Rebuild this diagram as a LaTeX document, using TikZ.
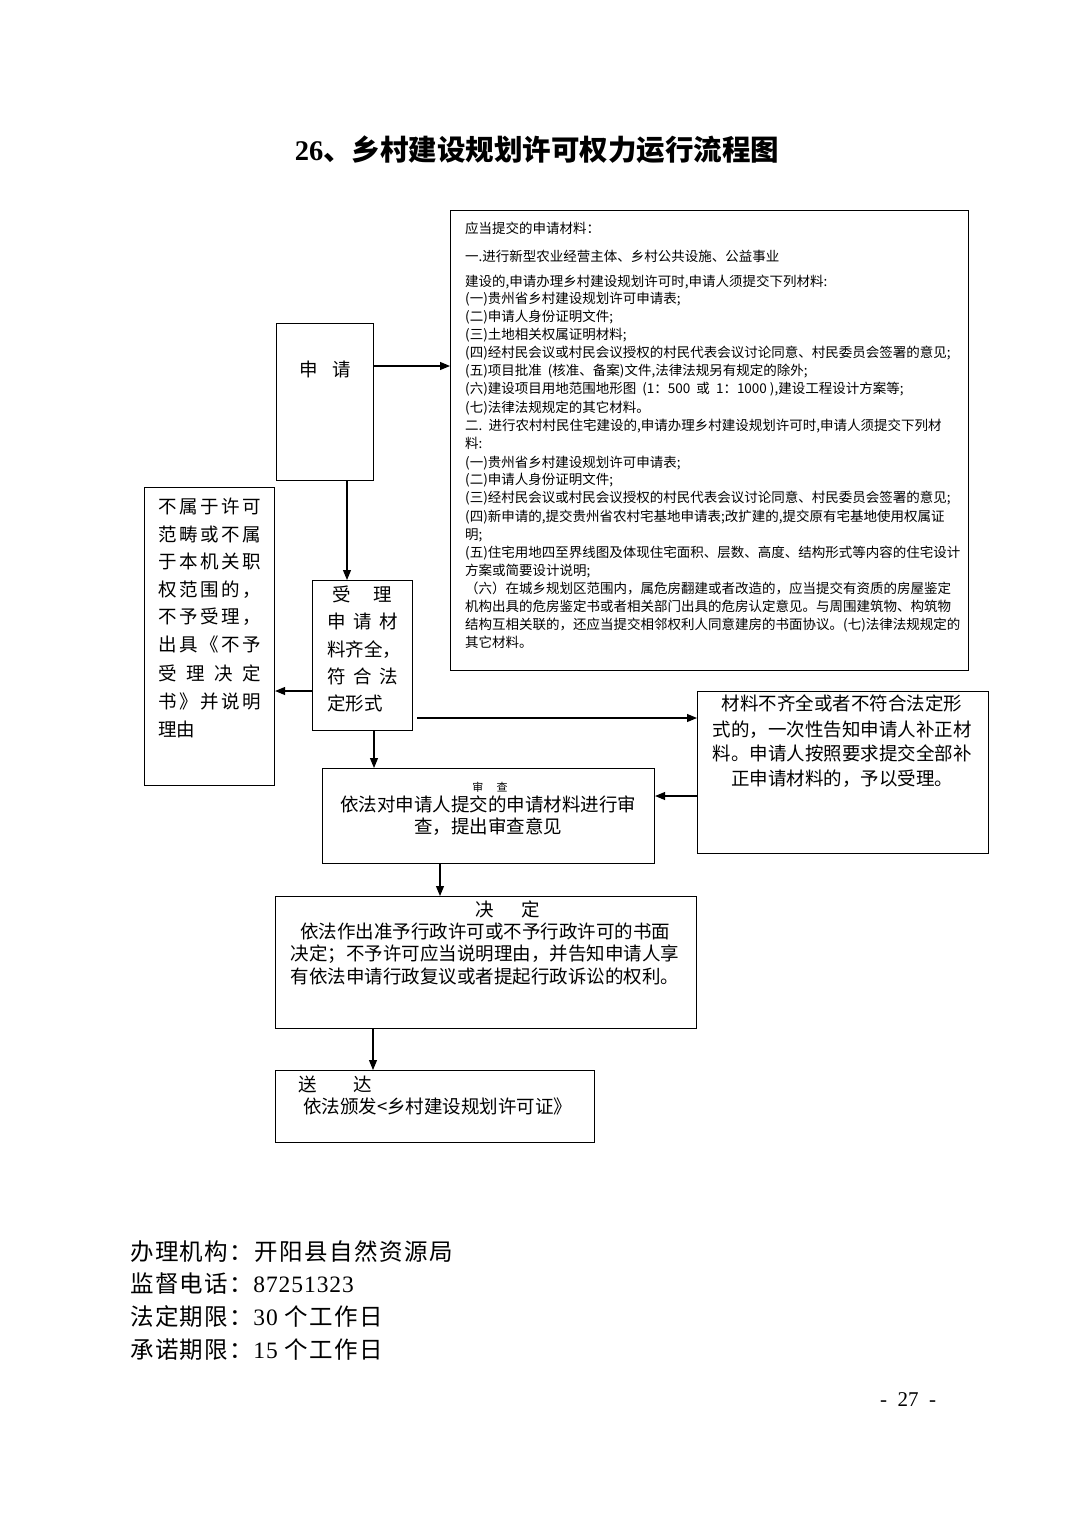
\documentclass[tikz,border=0pt]{standalone}
\usepackage{fontspec}
\setmainfont{Liberation Serif}
\newfontfamily\cjk{Noto Sans CJK SC}
\newfontfamily\cjkw[LetterSpace=6]{Noto Sans CJK SC}
\newfontfamily\serw[LetterSpace=4]{Liberation Serif}
\usetikzlibrary{arrows.meta}
\begin{document}
\begin{tikzpicture}[x=1pt,y=-1pt,
  box/.style={draw, line width=1.1pt, inner sep=0pt, anchor=north west},
  arr/.style={-{Triangle[length=10pt,width=8pt]}, line width=1.1pt},
  txt/.style={inner sep=0pt, anchor=west, text height=0.8em, text depth=0.15em},
  ctxt/.style={inner sep=0pt, anchor=center, text height=0.8em, text depth=0.15em},
  small/.style={font=\cjk\fontsize{13.5}{17}\selectfont},
  mid/.style={font=\cjk\fontsize{18.5}{25}\selectfont},
  big/.style={font=\cjkw\fontsize{23.5}{30}\selectfont}]
\useasboundingbox (0,0) rectangle (1074,1520);

% title
\node[ctxt, font=\cjk\bfseries\fontsize{28.5}{32}\selectfont] (title) at (537,157)
  {{\rmfamily\bfseries 26}、乡村建设规划许可权力运行流程图};

% boxes
\node[box, minimum width=518pt, minimum height=460pt] (mat) at (450,210) {};
\node[box, minimum width=97pt, minimum height=157pt] (sq) at (276,323) {};
\node[box, minimum width=100pt, minimum height=150pt] (sl) at (312,580) {};
\node[box, minimum width=130pt, minimum height=298pt] (bsl) at (144,487) {};
\node[box, minimum width=291pt, minimum height=162pt] (bq) at (697,691) {};
\node[box, minimum width=332pt, minimum height=95pt] (sc) at (322,768) {};
\node[box, minimum width=421pt, minimum height=132pt] (jd) at (275,896) {};
\node[box, minimum width=319pt, minimum height=72pt] (sd) at (275,1070) {};

% materials text
\foreach \y/\t [count=\i] in {
 230/{应当提交的申请材料：},
 258/{一.进行新型农业经营主体、乡村公共设施、公益事业},
 283/{建设的,申请办理乡村建设规划许可时,申请人须提交下列材料:},
 300/{(一)贵州省乡村建设规划许可申请表;},
 318/{(二)申请人身份证明文件;},
 336/{(三)土地相关权属证明材料;},
 354/{(四)经村民会议或村民会议授权的村民代表会议讨论同意、村民委员会签署的意见;},
 372/{(五)项目批准\ \ (核准、备案)文件,法律法规另有规定的除外;},
 390/{(六)建设项目用地范围地形图\ \ (1：500\ \ 或\ \ 1：1000 ),建设工程设计方案等;},
 409/{(七)法律法规规定的其它材料。},
 427/{二.\ \ 进行农村村民住宅建设的,申请办理乡村建设规划许可时,申请人须提交下列材},
 445/{料:},
 464/{(一)贵州省乡村建设规划许可申请表;},
 481/{(二)申请人身份证明文件;},
 499/{(三)经村民会议或村民会议授权的村民代表会议讨论同意、村民委员会签署的意见;},
 518/{(四)新申请的,提交贵州省农村宅基地申请表;改扩建的,提交原有宅基地使用权属证},
 536/{明;},
 554/{(五)住宅用地四至界线图及体现住宅面积、层数、高度、结构形式等内容的住宅设计},
 572/{方案或简要设计说明;},
 590/{（六）在城乡规划区范围内，属危房翻建或者改造的，应当提交有资质的房屋鉴定},
 608/{机构出具的危房鉴定书或者相关部门出具的危房认定意见。与周围建筑物、构筑物},
 626/{结构互相关联的，还应当提交相邻权利人同意建房的书面协议。(七)法律法规规定的},
 644/{其它材料。}}
 { \node[txt, small] (m\i) at (465,\y) {\t}; }

% 申请
\node[ctxt, mid] (sqt) at (325,373) {申\hspace{0.8em}请};

% 受理
\foreach \y/\t [count=\i] in {
 598/{\hspace{0.3em}受\hspace{1.2em}理},
 625/{\makebox[71pt][s]{申\hfill 请\hfill 材}},
 653/{料齐全，},
 680/{\makebox[71pt][s]{符\hfill 合\hfill 法}},
 707/{定形式}}
 { \node[txt, mid] (s\i) at (327,\y) {\t}; }

% left box
\foreach \y/\t [count=\i] in {
 510/{不\hfill 属\hfill 于\hfill 许\hfill 可},
 538/{范\hfill 畴\hfill 或\hfill 不\hfill 属},
 565/{于\hfill 本\hfill 机\hfill 关\hfill 职},
 593/{权\hfill 范\hfill 围\hfill 的\hfill ，},
 620/{不\hfill 予\hfill 受\hfill 理\hfill ，},
 648/{出\hfill 具\hfill 《\hfill 不\hfill 予},
 677/{受\hfill 理\hfill 决\hfill 定},
 705/{书\hfill 》\hfill 并\hfill 说\hfill 明}}
 { \node[txt, mid] (b\i) at (158,\y) {\makebox[103pt][s]{\t}}; }
\node[txt, mid] (b9) at (158,733) {理由};

% right box
\foreach \y/\t [count=\i] in {
 707/{材料不齐全或者不符合法定形},
 733/{式的，一次性告知申请人补正材},
 757/{料。申请人按照要求提交全部补},
 782/{正申请材料的，予以受理。}}
 { \node[ctxt, mid] (r\i) at (842,\y) {\t}; }

% 审查
\node[ctxt, font=\cjk\fontsize{11}{13}\selectfont] (sch) at (490,788) {审\hspace{1.2em}查};
\node[ctxt, mid] (sc1) at (488,808) {依法对申请人提交的申请材料进行审};
\node[ctxt, mid] (sc2) at (488,830) {查，提出审查意见};

% 决定
\node[ctxt, mid] (jdh) at (508,913) {决\hspace{1.5em}定};
\node[ctxt, mid] (jd1) at (485,935) {依法作出准予行政许可或不予行政许可的书面};
\node[ctxt, mid] (jd2) at (485,957) {决定；不予许可应当说明理由，并告知申请人享};
\node[ctxt, mid] (jd3) at (485,980) {有依法申请行政复议或者提起行政诉讼的权利。};

% 送达
\node[txt, mid] (sdh) at (298,1088) {送\hspace{2em}达};
\node[txt, mid] (sd1) at (303,1110) {依法颁发<乡村建设规划许可证》};

% footer
\node[txt, big] (f1) at (130,1257) {办理机构：开阳县自然资源局};
\node[txt, big] (f2) at (130,1289) {监督电话：{\serw 87251323}};
\node[txt, big] (f3) at (130,1322) {法定期限：{\serw 30 }个工作日};
\node[txt, big] (f4) at (130,1355) {承诺期限：{\serw 15 }个工作日};
\node[ctxt, font=\rmfamily\fontsize{21}{24}\selectfont] (pg) at (908,1403) {-\ \ 27\ \ -};

% connector coordinates
\coordinate (ya) at (0,366);
\coordinate (xb) at (347,0);
\coordinate (yc) at (0,691);
\coordinate (yd) at (0,718);
\coordinate (xd) at (417,0);
\coordinate (xe) at (374,0);
\coordinate (yf) at (0,796);
\coordinate (xg) at (440,0);
\coordinate (xh) at (373,0);

\draw[arr] (sq.east |- ya) -- (mat.west |- ya);
\draw[arr] (sq.south -| xb) -- (sl.north -| xb);
\draw[arr] (sl.west |- yc) -- (bsl.east |- yc);
\draw[arr] (xd |- yd) -- (bq.west |- yd);
\draw[arr] (sl.south -| xe) -- (sc.north -| xe);
\draw[arr] (bq.west |- yf) -- (sc.east |- yf);
\draw[arr] (sc.south -| xg) -- (jd.north -| xg);
\draw[arr] (jd.south -| xh) -- (sd.north -| xh);
\end{tikzpicture}
\end{document}
